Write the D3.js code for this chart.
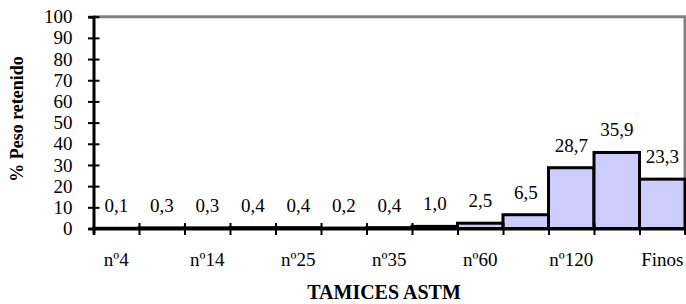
<!DOCTYPE html>
<html>
<head>
<meta charset="utf-8">
<script src="https://cdn.jsdelivr.net/npm/d3@7"></script>
<style>
  body { margin: 0; background: #fff; }
  svg text { font-family: 'Liberation Serif', 'Times New Roman', serif; }
</style>
</head>
<body>
<div id="chart"></div>
<script>
// sieves (only every other one gets a label in the original)
const categories = ['nº4', 'nº10', 'nº14', 'nº18', 'nº25', 'nº30', 'nº35', 'nº45', 'nº60', 'nº80', 'nº120', 'nº230', 'Finos']
const retained = [0.1, 0.3, 0.3, 0.4, 0.4, 0.2, 0.4, 1.0, 2.5, 6.5, 28.7, 35.9, 23.3]
const yTicks = [0, 10, 20, 30, 40, 50, 60, 70, 80, 90, 100]
const shownLabels = ['nº4', 'nº14', 'nº25', 'nº35', 'nº60', 'nº120', 'Finos']

const width = 686, height = 304
const plotLeft = 93.5, plotRight = 685, plotTop = 16.7, plotBottom = 228.5
const serif = "'Liberation Serif', 'Times New Roman', serif"

const svg = d3.select('#chart').append('svg')
  .attr('width', width)
  .attr('height', height)
  .style('display', 'block')

const x = d3.scaleBand().domain(categories).range([plotLeft, plotRight]).padding(0)
const xEdges = d3.scaleLinear().domain([0, categories.length]).range([plotLeft, plotRight])
const y = d3.scaleLinear().domain([0, 100]).range([plotBottom, plotTop])

const es = d3.formatLocale({ decimal: ',', thousands: '.', grouping: [3], currency: ['', ''] })
const fmt = es.format('.1f')

// gray frame top / right
svg.append('path')
  .attr('d', `M${plotLeft},${plotTop}H${plotRight}V${plotBottom}`)
  .attr('fill', 'none')
  .attr('stroke', '#808080')
  .attr('stroke-width', 3)

// bars
svg.selectAll('rect.bar')
  .data(retained)
  .enter()
  .append('rect')
  .attr('class', 'bar')
  .attr('x', (d, i) => x(categories[i]))
  .attr('width', x.bandwidth())
  .attr('y', d => y(d))
  .attr('height', d => y(0) - y(d))
  .attr('fill', '#ccccff')
  .attr('stroke', '#000')
  .attr('stroke-width', 3)

// value labels
svg.selectAll('text.val')
  .data(retained)
  .enter()
  .append('text')
  .attr('class', 'val')
  .attr('x', (d, i) => x(categories[i]) + x.bandwidth() / 2)
  .attr('y', d => y(d) - 16)
  .attr('text-anchor', 'middle')
  .style('font-size', '19px')
  .text(d => fmt(d))

// y axis
const yAxis = svg.append('g')
  .attr('transform', `translate(${plotLeft},0)`)
  .call(d3.axisLeft(y).tickValues(yTicks).tickSize(5).tickPadding(16))
  .attr('font-family', serif)
  .attr('font-size', 19)
yAxis.select('.domain').attr('stroke', '#000').attr('stroke-width', 3)
yAxis.selectAll('.tick line').attr('x1', 6).attr('x2', -5.5).attr('stroke-width', 2)
yAxis.selectAll('.tick text')
  .attr('x', -21)
  .attr('fill', '#000')

// x axis: ticks on band edges
const xAxis = svg.append('g')
  .attr('transform', `translate(0,${plotBottom})`)
  .call(d3.axisBottom(xEdges).tickValues(d3.range(categories.length + 1)).tickSize(6).tickFormat(''))
xAxis.select('.domain').attr('stroke', '#000').attr('stroke-width', 3)
xAxis.selectAll('.tick line').attr('y1', -5.5).attr('y2', 6.5).attr('stroke-width', 2)

// category labels
const xLabels = svg.append('g')
  .attr('transform', `translate(0,${plotBottom})`)
  .call(d3.axisBottom(x).tickSize(0).tickPadding(24).tickFormat(d => shownLabels.includes(d) ? d : ''))
  .attr('font-family', serif)
  .attr('font-size', 19)
xLabels.select('.domain').remove()
xLabels.selectAll('.tick text').attr('fill', '#000')

// axis titles
svg.append('text')
  .attr('x', 384)
  .attr('y', 299)
  .attr('text-anchor', 'middle')
  .style('font-size', '20px')
  .style('font-weight', 'bold')
  .text('TAMICES ASTM')

svg.append('text')
  .attr('transform', 'translate(23,119) rotate(-90)')
  .attr('text-anchor', 'middle')
  .style('font-size', '18px')
  .style('font-weight', 'bold')
  .text('% Peso retenido')
</script>
</body>
</html>
